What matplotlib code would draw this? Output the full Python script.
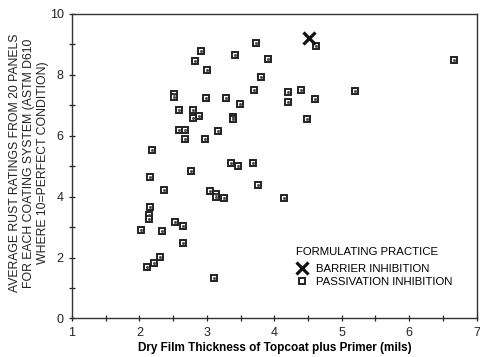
import matplotlib
matplotlib.use('Agg')
import matplotlib.pyplot as plt
from matplotlib.ticker import MultipleLocator

plt.rcParams['font.family'] = ['Liberation Sans', 'DejaVu Sans']
plt.rcParams['font.size'] = 8

# coating systems, passivation type primers
passivation_dft = [3.73, 2.92, 3.41, 3.90, 2.82, 3.00, 3.80, 3.70, 2.51, 2.51,
                   2.99, 3.29, 3.49, 2.58, 2.79, 2.89, 2.79, 3.39, 3.39, 2.58,
                   2.68, 2.68, 2.97, 3.17, 2.18, 3.36, 3.46, 3.68, 2.77, 4.62,
                   6.67, 4.20, 4.40, 5.19, 4.20, 4.60, 4.48, 2.15, 3.76, 2.36,
                   3.05, 3.13, 3.13, 3.25, 2.15, 2.14, 2.14, 2.53, 2.64, 2.03,
                   2.33, 2.64, 2.31, 2.21, 2.11, 3.10, 4.14]
passivation_rating = [9.06, 8.78, 8.65, 8.52, 8.46, 8.15, 7.94, 7.51, 7.36, 7.28,
                      7.25, 7.25, 7.03, 6.84, 6.85, 6.66, 6.58, 6.62, 6.55, 6.19,
                      6.19, 5.90, 5.88, 6.16, 5.53, 5.10, 4.99, 5.10, 4.83, 8.95,
                      8.50, 7.45, 7.50, 7.47, 7.12, 7.22, 6.54, 4.65, 4.37, 4.23,
                      4.18, 4.09, 3.98, 3.97, 3.66, 3.39, 3.26, 3.17, 3.03, 2.90,
                      2.87, 2.47, 2.01, 1.81, 1.70, 1.32, 3.97]

# barrier type system
barrier_dft = [4.51]
barrier_rating = [9.20]

fig = plt.figure(figsize=(4.8, 3.57), dpi=100)
ax = fig.add_axes([0.15, 0.108, 0.843, 0.853])

ax.plot(passivation_dft, passivation_rating, linestyle='none', marker='s',
        markersize=5.0, markerfacecolor='white', markeredgecolor='#222222',
        markeredgewidth=1.4, label='PASSIVATION INHIBITION')
ax.plot(passivation_dft, passivation_rating, linestyle='none', marker='s',
        markersize=1.0, color='#444444')
ax.plot(barrier_dft, barrier_rating, linestyle='none', marker='x',
        markersize=8.5, markeredgewidth=2.3, color='#111111',
        label='BARRIER INHIBITION')

ax.set_xlim(1, 7)
ax.set_ylim(0, 10)
ax.xaxis.set_major_locator(MultipleLocator(1))
ax.xaxis.set_minor_locator(MultipleLocator(0.5))
ax.yaxis.set_major_locator(MultipleLocator(2))
ax.yaxis.set_minor_locator(MultipleLocator(1))
ax.tick_params(which='both', direction='inout', width=0.9, labelsize=9,
               colors='#222222')
ax.tick_params(which='major', length=5)
ax.tick_params(which='minor', length=4)
for s in ax.spines.values():
    s.set_linewidth(1.0)
    s.set_color('#333333')

ax.set_xlabel('Dry Film Thickness of Topcoat plus Primer (mils)',
              fontsize=8.5, fontweight='bold', labelpad=2)
ax.set_ylabel('AVERAGE RUST RATINGS FROM 20 PANELS\n'
              'FOR EACH COATING SYSTEM (ASTM D610\n'
              'WHERE 10=PERFECT CONDITION)', fontsize=8.8,
              linespacing=1.2, color='#222222')
ax.yaxis.set_label_coords(-0.057, 0.51)

handles, labels = ax.get_legend_handles_labels()
leg = ax.legend(handles[::-1], labels[::-1], title='FORMULATING PRACTICE',
                frameon=False, loc='upper left', bbox_to_anchor=(0.535, 0.262),
                fontsize=8.2, title_fontsize=8.2, handlelength=1.0,
                handletextpad=0.7, labelspacing=0.3, borderpad=0.2)
leg._legend_box.align = 'left'
leg._legend_box.sep = 5

fig.savefig('out.png', dpi=100)
